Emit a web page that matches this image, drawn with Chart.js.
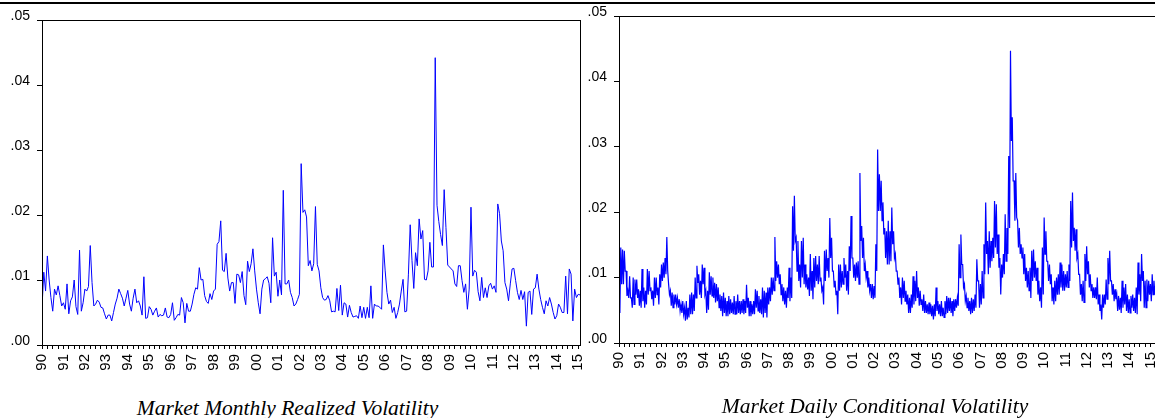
<!DOCTYPE html>
<html lang="en">
<head>
  <meta charset="UTF-8" />
  <title>Market Volatility</title>
  <style>
    html, body {
      margin: 0;
      padding: 0;
      background: #fff;
      width: 1155px;
      height: 418px;
      overflow: hidden;
    }
    .topline {
      position: absolute;
      left: 0;
      top: 2px;
      width: 1155px;
      height: 2px;
      background: #000;
    }
    canvas {
      position: absolute;
      top: 0;
    }
    #monthlyChart { left: 0; }
    #dailyChart { left: 576px; }
    .caption {
      position: absolute;
      font-family: "Liberation Serif", "Times New Roman", serif;
      font-style: italic;
      font-size: 21.5px;
      line-height: 24px;
      color: #000;
      text-align: center;
      white-space: nowrap;
    }
  </style>
  <script src="https://cdn.jsdelivr.net/npm/chart.js"></script>
</head>
<body>

  <div class="topline"></div>
  <canvas id="monthlyChart" width="588" height="381"></canvas>
  <canvas id="dailyChart" width="590" height="379"></canvas>
  <div class="caption" style="left:0; top:396px; width:575px;">Market Monthly Realized Volatility</div>
  <div class="caption" style="left:590px; top:394px; width:570px;">Market Daily Conditional Volatility</div>

  <script>
    const startYear = 1990;
    const yearLabels = ['90', '91', '92', '93', '94', '95', '96', '97', '98', '99', '00', '01', '02',
                        '03', '04', '05', '06', '07', '08', '09', '10', '11', '12', '13', '14', '15'];
    const yTickLabels = ['.00', '.01', '.02', '.03', '.04', '.05'];

    // monthly realized volatility, 1990M01 onwards
    const monthlyRV = [
      0.0058, 0.0112, 0.0083, 0.0137, 0.0100, 0.0073, 0.0052, 0.0086, 0.0077, 0.0091, 0.0076, 0.0060,
      0.0065, 0.0055, 0.0094, 0.0048, 0.0068, 0.0074, 0.0100, 0.0059, 0.0047, 0.0146, 0.0052, 0.0065,
      0.0086, 0.0083, 0.0090, 0.0153, 0.0096, 0.0060, 0.0063, 0.0069, 0.0066, 0.0058, 0.0057, 0.0048,
      0.0040, 0.0046, 0.0046, 0.0037, 0.0050, 0.0063, 0.0072, 0.0086, 0.0079, 0.0072, 0.0060, 0.0072,
      0.0084, 0.0063, 0.0052, 0.0072, 0.0086, 0.0065, 0.0068, 0.0060, 0.0046, 0.0105, 0.0041, 0.0042,
      0.0059, 0.0055, 0.0046, 0.0052, 0.0057, 0.0043, 0.0047, 0.0045, 0.0046, 0.0057, 0.0043, 0.0042,
      0.0047, 0.0065, 0.0038, 0.0042, 0.0047, 0.0046, 0.0073, 0.0065, 0.0034, 0.0064, 0.0052, 0.0052,
      0.0063, 0.0078, 0.0088, 0.0086, 0.0119, 0.0100, 0.0101, 0.0076, 0.0067, 0.0064, 0.0079, 0.0070,
      0.0083, 0.0086, 0.0155, 0.0159, 0.0191, 0.0115, 0.0113, 0.0141, 0.0103, 0.0083, 0.0096, 0.0096,
      0.0064, 0.0109, 0.0108, 0.0096, 0.0113, 0.0076, 0.0062, 0.0129, 0.0113, 0.0125, 0.0148, 0.0114,
      0.0086, 0.0065, 0.0048, 0.0086, 0.0100, 0.0102, 0.0105, 0.0095, 0.0065, 0.0165, 0.0106, 0.0112,
      0.0075, 0.0100, 0.0077, 0.0238, 0.0094, 0.0094, 0.0100, 0.0081, 0.0073, 0.0060, 0.0063, 0.0070,
      0.0078, 0.0279, 0.0204, 0.0208, 0.0197, 0.0122, 0.0130, 0.0114, 0.0125, 0.0213, 0.0124, 0.0114,
      0.0088, 0.0073, 0.0069, 0.0070, 0.0076, 0.0068, 0.0051, 0.0052, 0.0051, 0.0087, 0.0053, 0.0092,
      0.0046, 0.0065, 0.0063, 0.0043, 0.0061, 0.0050, 0.0043, 0.0044, 0.0045, 0.0041, 0.0060, 0.0042,
      0.0058, 0.0041, 0.0058, 0.0042, 0.0091, 0.0041, 0.0063, 0.0060, 0.0060, 0.0058, 0.0055, 0.0154,
      0.0114, 0.0081, 0.0063, 0.0069, 0.0050, 0.0058, 0.0041, 0.0050, 0.0063, 0.0083, 0.0101, 0.0051,
      0.0052, 0.0109, 0.0185, 0.0130, 0.0087, 0.0142, 0.0122, 0.0194, 0.0163, 0.0176, 0.0101, 0.0100,
      0.0114, 0.0158, 0.0120, 0.0120, 0.0442, 0.0215, 0.0190, 0.0170, 0.0153, 0.0239, 0.0181, 0.0123,
      0.0120, 0.0117, 0.0114, 0.0094, 0.0090, 0.0122, 0.0122, 0.0099, 0.0081, 0.0094, 0.0055, 0.0086,
      0.0212, 0.0106, 0.0115, 0.0112, 0.0082, 0.0068, 0.0104, 0.0073, 0.0088, 0.0073, 0.0091, 0.0095,
      0.0086, 0.0091, 0.0081, 0.0217, 0.0202, 0.0160, 0.0145, 0.0096, 0.0086, 0.0068, 0.0094, 0.0117,
      0.0118, 0.0099, 0.0081, 0.0070, 0.0084, 0.0070, 0.0082, 0.0029, 0.0081, 0.0083, 0.0047, 0.0086,
      0.0088, 0.0109, 0.0086, 0.0070, 0.0058, 0.0048, 0.0068, 0.0060, 0.0073, 0.0063, 0.0050, 0.0040,
      0.0045, 0.0063, 0.0058, 0.0050, 0.0050, 0.0106, 0.0048, 0.0117, 0.0109, 0.0037, 0.0086, 0.0073,
      0.0078, 0.0077
    ];

    // daily conditional volatility, read as monthly high / low of the daily line
    const dailyHigh = [
      0.0090, 0.0146, 0.0143, 0.0141, 0.0110, 0.0080, 0.0102, 0.0069, 0.0100, 0.0097, 0.0097, 0.0082,
      0.0080, 0.0113, 0.0085, 0.0080, 0.0113, 0.0110, 0.0085, 0.0080, 0.0100, 0.0100, 0.0085, 0.0105,
      0.0120, 0.0123, 0.0130, 0.0162, 0.0090, 0.0080, 0.0077, 0.0074, 0.0074, 0.0069, 0.0067, 0.0059,
      0.0064, 0.0054, 0.0064, 0.0054, 0.0074, 0.0077, 0.0074, 0.0100, 0.0118, 0.0105, 0.0095, 0.0120,
      0.0115, 0.0080, 0.0080, 0.0108, 0.0102, 0.0100, 0.0092, 0.0090, 0.0085, 0.0074, 0.0072, 0.0077,
      0.0069, 0.0064, 0.0072, 0.0067, 0.0062, 0.0072, 0.0064, 0.0074, 0.0064, 0.0064, 0.0067, 0.0064,
      0.0089, 0.0069, 0.0064, 0.0059, 0.0064, 0.0082, 0.0080, 0.0072, 0.0067, 0.0085, 0.0080, 0.0077,
      0.0085, 0.0085, 0.0100, 0.0100, 0.0162, 0.0125, 0.0120, 0.0105, 0.0090, 0.0085, 0.0080, 0.0085,
      0.0115, 0.0100, 0.0209, 0.0225, 0.0161, 0.0156, 0.0120, 0.0156, 0.0161, 0.0120, 0.0105, 0.0100,
      0.0136, 0.0110, 0.0130, 0.0133, 0.0120, 0.0133, 0.0100, 0.0085, 0.0141, 0.0143, 0.0130, 0.0191,
      0.0161, 0.0110, 0.0095, 0.0080, 0.0120, 0.0120, 0.0110, 0.0130, 0.0120, 0.0110, 0.0148, 0.0194,
      0.0130, 0.0120, 0.0123, 0.0125, 0.0260, 0.0179, 0.0161, 0.0120, 0.0110, 0.0100, 0.0090, 0.0090,
      0.0087, 0.0151, 0.0296, 0.0258, 0.0248, 0.0215, 0.0176, 0.0171, 0.0187, 0.0171, 0.0207, 0.0171,
      0.0136, 0.0110, 0.0100, 0.0085, 0.0100, 0.0095, 0.0080, 0.0074, 0.0069, 0.0074, 0.0102, 0.0095,
      0.0110, 0.0085, 0.0080, 0.0067, 0.0074, 0.0064, 0.0059, 0.0062, 0.0059, 0.0057, 0.0059, 0.0085,
      0.0064, 0.0059, 0.0064, 0.0054, 0.0064, 0.0072, 0.0069, 0.0069, 0.0064, 0.0067, 0.0067, 0.0069,
      0.0151, 0.0166, 0.0120, 0.0090, 0.0072, 0.0069, 0.0064, 0.0069, 0.0067, 0.0074, 0.0128, 0.0095,
      0.0090, 0.0110, 0.0151, 0.0215, 0.0156, 0.0171, 0.0156, 0.0161, 0.0217, 0.0212, 0.0166, 0.0130,
      0.0120, 0.0136, 0.0197, 0.0176, 0.0286, 0.0447, 0.0345, 0.0248, 0.0260, 0.0187, 0.0176, 0.0151,
      0.0146, 0.0136, 0.0115, 0.0110, 0.0115, 0.0141, 0.0143, 0.0125, 0.0115, 0.0095, 0.0085, 0.0146,
      0.0192, 0.0171, 0.0125, 0.0120, 0.0105, 0.0085, 0.0095, 0.0100, 0.0105, 0.0123, 0.0120, 0.0110,
      0.0105, 0.0110, 0.0120, 0.0217, 0.0230, 0.0176, 0.0174, 0.0136, 0.0105, 0.0090, 0.0095, 0.0136,
      0.0148, 0.0125, 0.0105, 0.0090, 0.0085, 0.0085, 0.0100, 0.0074, 0.0059, 0.0074, 0.0074, 0.0097,
      0.0130, 0.0141, 0.0095, 0.0090, 0.0082, 0.0074, 0.0072, 0.0069, 0.0095, 0.0085, 0.0090, 0.0074,
      0.0067, 0.0072, 0.0074, 0.0069, 0.0085, 0.0123, 0.0105, 0.0136, 0.0110, 0.0095, 0.0097, 0.0095,
      0.0090, 0.0105, 0.0095, 0.0090
    ];
    const dailyLow = [
      0.0046, 0.0090, 0.0090, 0.0110, 0.0072, 0.0069, 0.0069, 0.0054, 0.0059, 0.0074, 0.0069, 0.0057,
      0.0054, 0.0064, 0.0054, 0.0059, 0.0074, 0.0080, 0.0067, 0.0057, 0.0069, 0.0074, 0.0059, 0.0085,
      0.0095, 0.0100, 0.0105, 0.0110, 0.0074, 0.0057, 0.0054, 0.0059, 0.0059, 0.0054, 0.0049, 0.0046,
      0.0044, 0.0034, 0.0036, 0.0039, 0.0044, 0.0044, 0.0049, 0.0069, 0.0092, 0.0074, 0.0069, 0.0090,
      0.0074, 0.0046, 0.0051, 0.0074, 0.0072, 0.0069, 0.0062, 0.0064, 0.0054, 0.0049, 0.0041, 0.0046,
      0.0041, 0.0041, 0.0044, 0.0046, 0.0044, 0.0044, 0.0044, 0.0046, 0.0044, 0.0046, 0.0044, 0.0046,
      0.0054, 0.0041, 0.0041, 0.0044, 0.0044, 0.0054, 0.0049, 0.0046, 0.0044, 0.0039, 0.0046, 0.0039,
      0.0059, 0.0064, 0.0074, 0.0080, 0.0095, 0.0100, 0.0090, 0.0074, 0.0064, 0.0059, 0.0054, 0.0069,
      0.0064, 0.0069, 0.0141, 0.0156, 0.0110, 0.0095, 0.0085, 0.0100, 0.0090, 0.0085, 0.0082, 0.0072,
      0.0080, 0.0067, 0.0085, 0.0095, 0.0090, 0.0095, 0.0080, 0.0059, 0.0095, 0.0110, 0.0100, 0.0130,
      0.0110, 0.0085, 0.0074, 0.0044, 0.0080, 0.0085, 0.0090, 0.0100, 0.0080, 0.0074, 0.0110, 0.0130,
      0.0100, 0.0095, 0.0100, 0.0090, 0.0156, 0.0130, 0.0110, 0.0100, 0.0085, 0.0080, 0.0069, 0.0067,
      0.0069, 0.0110, 0.0202, 0.0202, 0.0187, 0.0166, 0.0130, 0.0120, 0.0120, 0.0125, 0.0151, 0.0130,
      0.0110, 0.0090, 0.0069, 0.0059, 0.0069, 0.0064, 0.0059, 0.0046, 0.0046, 0.0054, 0.0059, 0.0064,
      0.0069, 0.0057, 0.0059, 0.0049, 0.0046, 0.0046, 0.0044, 0.0044, 0.0041, 0.0036, 0.0041, 0.0049,
      0.0044, 0.0041, 0.0041, 0.0039, 0.0044, 0.0046, 0.0049, 0.0046, 0.0041, 0.0049, 0.0054, 0.0057,
      0.0100, 0.0120, 0.0085, 0.0064, 0.0054, 0.0049, 0.0044, 0.0046, 0.0049, 0.0054, 0.0095, 0.0054,
      0.0059, 0.0069, 0.0105, 0.0136, 0.0105, 0.0115, 0.0125, 0.0130, 0.0146, 0.0136, 0.0115, 0.0074,
      0.0100, 0.0105, 0.0125, 0.0136, 0.0176, 0.0309, 0.0248, 0.0187, 0.0192, 0.0146, 0.0136, 0.0130,
      0.0105, 0.0095, 0.0085, 0.0080, 0.0069, 0.0095, 0.0100, 0.0095, 0.0074, 0.0064, 0.0054, 0.0074,
      0.0136, 0.0125, 0.0095, 0.0090, 0.0064, 0.0059, 0.0064, 0.0074, 0.0074, 0.0085, 0.0080, 0.0080,
      0.0085, 0.0085, 0.0095, 0.0146, 0.0156, 0.0141, 0.0130, 0.0105, 0.0074, 0.0064, 0.0062, 0.0095,
      0.0105, 0.0085, 0.0080, 0.0069, 0.0069, 0.0067, 0.0059, 0.0049, 0.0036, 0.0054, 0.0059, 0.0067,
      0.0090, 0.0095, 0.0074, 0.0064, 0.0067, 0.0049, 0.0051, 0.0046, 0.0054, 0.0059, 0.0049, 0.0046,
      0.0046, 0.0054, 0.0049, 0.0046, 0.0044, 0.0074, 0.0064, 0.0095, 0.0054, 0.0054, 0.0064, 0.0074,
      0.0064, 0.0074, 0.0074, 0.0070
    ];

    Chart.defaults.font.family = 'Arial, "Liberation Sans", sans-serif';
    Chart.defaults.font.size = 14;
    Chart.defaults.color = '#000';

    // frame around the plot area (EViews style box)
    const boxBorder = {
      id: 'boxBorder',
      afterDraw(chart) {
        const { ctx, chartArea: a } = chart;
        ctx.save();
        ctx.strokeStyle = '#000';
        ctx.lineWidth = 1;
        ctx.strokeRect(Math.round(a.left) + 0.5, Math.round(a.top) + 0.5,
                       Math.round(a.right - a.left), Math.round(a.bottom - a.top));
        ctx.restore();
      }
    };

    function makeOptions(xMax, padTop, padRight, yWidth) {
      return {
        responsive: false,
        animation: false,
        devicePixelRatio: 1,
        layout: { padding: { top: padTop, right: padRight, left: 0, bottom: 0 } },
        plugins: {
          legend: { display: false },
          tooltip: { enabled: false }
        },
        scales: {
          x: {
            type: 'linear',
            min: startYear,
            max: xMax,
            afterFit: (scale) => {
              scale.height = 36;
              // keep rotated labels from squeezing the plot area
              scale.paddingLeft = 0;
              scale.paddingRight = 0;
            },
            border: { display: true, color: '#000', width: 1 },
            grid: { drawOnChartArea: false, drawTicks: true, tickLength: 4, color: '#000' },
            ticks: {
              stepSize: 0.25,
              autoSkip: false,
              includeBounds: false,
              minRotation: 90,
              maxRotation: 90,
              padding: 5,
              font: { size: 15 },
              callback: (value) => {
                const k = value - startYear;
                return Number.isInteger(k) && yearLabels[k] ? yearLabels[k] : '';
              }
            }
          },
          y: {
            min: 0,
            max: 0.05,
            afterFit: (scale) => { scale.width = yWidth; },
            border: { display: true, color: '#000', width: 1 },
            grid: { drawOnChartArea: false, drawTicks: true, tickLength: 5, color: '#000' },
            ticks: {
              stepSize: 0.01,
              padding: 7,
              labelOffset: -4,
              callback: (value) => yTickLabels[Math.round(value * 100)]
            }
          }
        }
      };
    }

    // MONTHLY CHART
    const monthlyPoints = monthlyRV.map((v, i) => ({ x: startYear + i / 12, y: v }));
    new Chart(document.getElementById('monthlyChart'), {
      type: 'line',
      data: {
        datasets: [{
          data: monthlyPoints,
          borderColor: '#0000FF',
          borderWidth: 1,
          pointRadius: 0,
          tension: 0,
          fill: false
        }]
      },
      options: makeOptions(startYear + (monthlyRV.length - 1) / 12, 20, 8, 42),
      plugins: [boxBorder]
    });

    // DAILY CHART
    const dailyPoints = [];
    for (let m = 0; m < dailyHigh.length; m++) {
      dailyPoints.push({ x: startYear + m / 12, y: dailyHigh[m] });
      dailyPoints.push({ x: startYear + (m + 0.5) / 12, y: dailyLow[m] });
    }
    new Chart(document.getElementById('dailyChart'), {
      type: 'line',
      data: {
        datasets: [{
          data: dailyPoints,
          borderColor: '#0000FF',
          borderWidth: 1.2,
          pointRadius: 0,
          tension: 0,
          fill: false
        }]
      },
      options: makeOptions(2015.45, 16, 6, 43),
      plugins: [boxBorder]
    });
  </script>

</body>
</html>
